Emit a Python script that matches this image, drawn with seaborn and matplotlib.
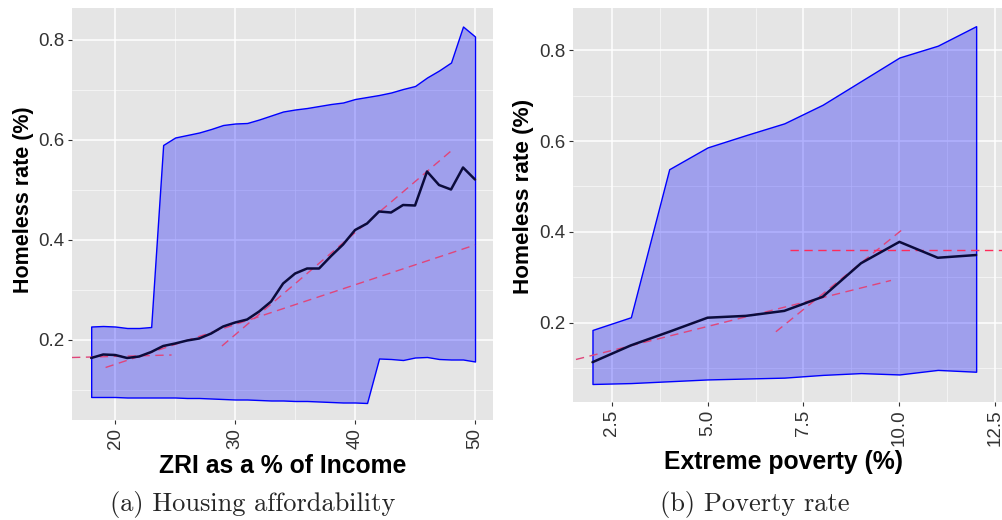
import numpy as np
import pandas as pd
import matplotlib
matplotlib.use("Agg")
import matplotlib.pyplot as plt
from matplotlib.ticker import MultipleLocator
import seaborn as sns

# ---------------- data: panel (a) housing affordability ----------------
zri_x = list(range(18, 51))
zri_mean = [0.164, 0.171, 0.170, 0.164, 0.167, 0.176, 0.188, 0.193, 0.199, 0.203,
            0.213, 0.227, 0.235, 0.241, 0.257, 0.277, 0.313, 0.333, 0.343, 0.343,
            0.368, 0.391, 0.420, 0.433, 0.457, 0.455, 0.470, 0.469, 0.537, 0.510,
            0.501, 0.545, 0.521]
zri_upper = [0.227, 0.228, 0.227, 0.224, 0.224, 0.226, 0.590, 0.605, 0.610, 0.615,
             0.622, 0.630, 0.633, 0.634, 0.641, 0.649, 0.657, 0.661, 0.664, 0.668,
             0.672, 0.675, 0.682, 0.686, 0.690, 0.695, 0.702, 0.708, 0.725, 0.739,
             0.755, 0.827, 0.807]
zri_lower = [0.086, 0.086, 0.086, 0.085, 0.085, 0.085, 0.085, 0.085, 0.084, 0.084,
             0.083, 0.082, 0.081, 0.081, 0.080, 0.079, 0.079, 0.078, 0.078, 0.077,
             0.076, 0.075, 0.075, 0.074, 0.163, 0.162, 0.160, 0.165, 0.166, 0.162,
             0.161, 0.161, 0.157]
# fitted segments (x0, x1, y0, y1)
zri_fit1 = ([16.4, 24.7], [0.165, 0.170])
zri_fit2 = ([19.2, 50.0], [0.145, 0.390])
zri_fit3 = ([28.9, 48.0], [0.188, 0.578])

# ---------------- data: panel (b) poverty rate ----------------
pov_x = list(range(2, 13))
pov_mean = [0.113, 0.150, 0.180, 0.211, 0.215, 0.226, 0.257, 0.331, 0.378, 0.343, 0.349]
pov_upper = [0.184, 0.212, 0.538, 0.586, 0.613, 0.639, 0.680, 0.732, 0.784, 0.810, 0.853]
pov_lower = [0.065, 0.067, 0.071, 0.075, 0.077, 0.079, 0.085, 0.089, 0.086, 0.096, 0.092]
pov_fit1 = ([1.57, 9.78], [0.119, 0.293])
pov_fit2 = ([6.78, 10.06], [0.180, 0.404])
pov_fit3 = ([7.15, 12.7], [0.360, 0.360])

# ---------------- style ----------------
sns.set_theme(style="darkgrid")
plt.rcParams["font.family"] = ["Liberation Sans", "DejaVu Sans"]
plt.rcParams["axes.facecolor"] = "#e5e5e5"

W, H = 1003, 520
fig = plt.figure(figsize=(W / 100, H / 100), dpi=100)

def px_axes(x0, y0, x1, y1):
    return fig.add_axes([x0 / W, 1 - y1 / H, (x1 - x0) / W, (y1 - y0) / H])

axA = px_axes(72, 8, 493, 420)
axB = px_axes(573.3, 8, 1003, 401.7)

FILL = (0, 0, 1, 0.3)
MEAN = "#0b0b3b"
FIT = "#e0457a"

def draw(ax, x, mean, lo, hi, fits, fitcolors):
    ax.set_axisbelow(True)
    ax.fill_between(x, lo, hi, facecolor=FILL, edgecolor="blue", linewidth=1.0, zorder=2)
    df = pd.DataFrame({"x": x, "y": mean})
    sns.lineplot(data=df, x="x", y="y", ax=ax, color=MEAN, linewidth=1.8, zorder=4)
    for (fx, fy), c in zip(fits, fitcolors):
        ax.plot(fx, fy, color=c, linewidth=1.0, dashes=(6, 4), zorder=3)
    ax.grid(which="major", color="white", linewidth=1.1)
    ax.grid(which="minor", color="white", linewidth=0.5, alpha=0.8)
    ax.tick_params(axis="both", which="major", labelsize=13.5, labelcolor="#333333",
                   length=3, width=0.8, color="#333333", direction="out",
                   bottom=True, left=True, pad=2.5)
    ax.tick_params(axis="both", which="minor", length=0)
    for s in ax.spines.values():
        s.set_visible(False)
    ax.tick_params(axis="x", labelrotation=90)

draw(axA, zri_x, zri_mean, zri_lower, zri_upper,
     [zri_fit1, zri_fit2, zri_fit3], [FIT, FIT, FIT])
axA.set_xlim(16.4, 51.5)
axA.set_ylim(0.04, 0.864)
axA.xaxis.set_minor_locator(MultipleLocator(5))
axA.yaxis.set_minor_locator(MultipleLocator(0.1))
axA.set_yticks([0.2, 0.4, 0.6, 0.8])
axA.set_yticklabels(["0.2", "0.4", "0.6", "0.8"])
axA.set_xticks([20, 30, 40, 50])
axA.set_xticklabels(["20", "30", "40", "50"])

draw(axB, pov_x, pov_mean, pov_lower, pov_upper,
     [pov_fit1, pov_fit2, pov_fit3], [FIT, FIT, "#ff2a5a"])
axB.set_xlim(1.5, 12.7)
axB.set_ylim(0.026, 0.893)
axB.xaxis.set_minor_locator(MultipleLocator(1.25))
axB.yaxis.set_minor_locator(MultipleLocator(0.1))
axB.set_xticks([2.5, 5.0, 7.5, 10.0, 12.5])
axB.set_xticklabels(["2.5", "5.0", "7.5", "10.0", "12.5"])
axB.set_yticks([0.2, 0.4, 0.6, 0.8])
axB.set_yticklabels(["0.2", "0.4", "0.6", "0.8"])

for ax in (axA, axB):
    for lab in ax.get_xticklabels():
        lab.set_va("top")
        lab.set_ha("center")

xlab_kw = dict(fontsize=17.8, fontweight="bold", color="black")
axA.set_xlabel("ZRI as a % of Income", va="center", **xlab_kw)
axA.xaxis.set_label_coords(0.5, -0.112)
axA.set_ylabel("Homeless rate (%)", va="center", fontsize=15.5, fontweight="bold", color="black")
axA.yaxis.set_label_coords(-0.116, 0.534)

axB.set_xlabel("Extreme poverty (%)", va="center", **xlab_kw)
axB.xaxis.set_label_coords(0.49, -0.153)
axB.set_ylabel("Homeless rate (%)", va="center", fontsize=16.2, fontweight="bold", color="black")
axB.yaxis.set_label_coords(-0.117, 0.521)

cap_kw = dict(fontsize=19, family=["cmr10", "DejaVu Serif"], ha="center", va="center")
fig.text(252.5 / W, 1 - 505 / H, "(a) Housing affordability", **cap_kw)
fig.text(755 / W, 1 - 505 / H, "(b) Poverty rate", **cap_kw)

fig.savefig("out.png", dpi=100)
